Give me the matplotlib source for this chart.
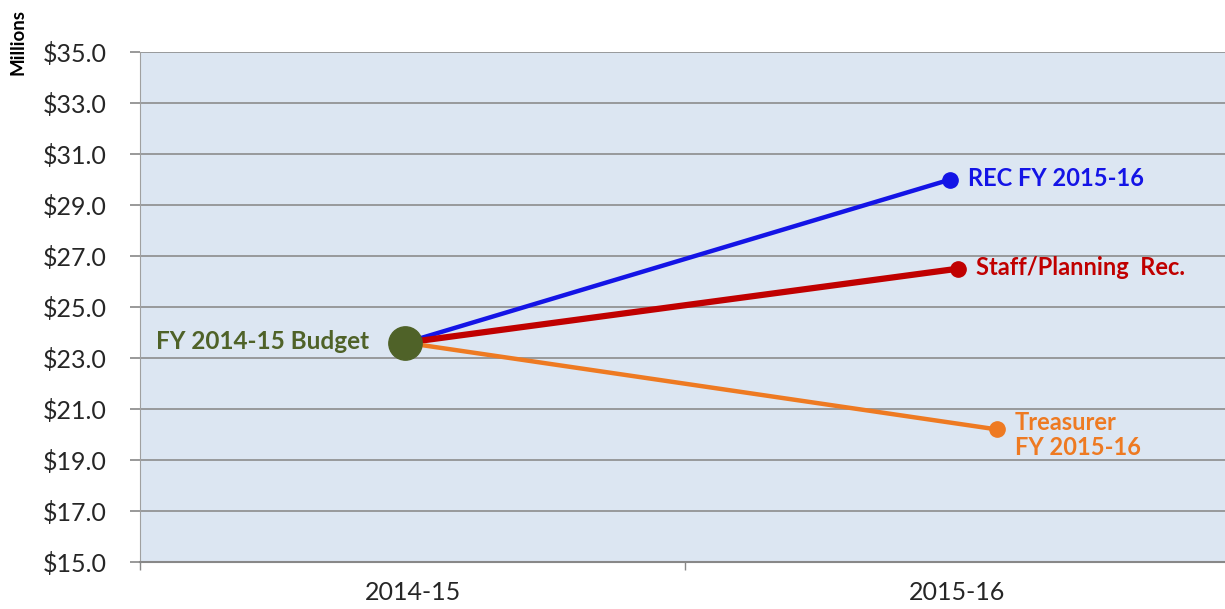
import matplotlib.pyplot as plt
import numpy as np

plt.rcParams['font.family'] = ['Lato', 'DejaVu Sans']

categories = ['2014-15', '2015-16']

# start point and the three scenario end points (x in category units)
start_x = -0.013
start_val = 23.6
scenario_names = ['REC FY 2015-16', 'Staff/Planning  Rec.', 'Treasurer\nFY 2015-16']
scenario_x = [0.987, 1.0, 1.072]
scenario_vals = [30.0, 26.5, 20.2]
scenario_colors = ['#1414E6', '#C00000', '#EE7A22']
line_widths = [3.2, 4.5, 3.2]
label_dy = [1, 1, -4]

fig = plt.figure(figsize=(12.25, 6.09), dpi=100)
ax = fig.add_axes([140 / 1225, 1 - 562 / 609, 1090 / 1225, 510 / 609])
ax.set_facecolor('#DCE6F2')

for name, x, v, c, lw, dy in zip(scenario_names, scenario_x, scenario_vals, scenario_colors, line_widths, label_dy):
    ax.plot([start_x, x], [start_val, v], color=c, lw=lw, solid_capstyle='round', zorder=3)
    ax.plot(x, v, 'o', color=c, markersize=11, zorder=4)
    ax.annotate(name, (x, v), xytext=(13, dy), textcoords='offset points',
                color=c, fontsize=17, fontweight='bold', va='center', ha='left',
                linespacing=1.1, annotation_clip=False)

ax.plot(start_x, start_val, 'o', color='#4F6228', markersize=24, zorder=5)
ax.annotate('FY 2014-15 Budget', (start_x, start_val), xytext=(-26, 1), textcoords='offset points',
            color='#4F6228', fontsize=17.5, fontweight='bold', va='center', ha='right')

ax.set_xlim(-0.5, 1.5)
ax.set_ylim(15, 35)
yt = np.arange(15, 35.1, 2)
ax.set_yticks(yt)
ax.set_yticklabels(['${:.1f}'.format(v) for v in yt], fontsize=18, color='#262626')
ax.set_xticks([0, 1])
ax.set_xticklabels(categories, fontsize=18, color='#262626')
ax.set_xticks([-0.5, 0.5, 1.5], minor=True)
ax.tick_params(axis='x', which='major', length=0, pad=14)
ax.tick_params(axis='x', which='minor', length=6, color='#888888', width=1)
ax.tick_params(axis='y', length=7, color='#888888', width=1.2, pad=17)
ax.grid(axis='y', color='#8C8C8C', lw=1.2, zorder=1)
for s in ['top', 'right']:
    ax.spines[s].set_visible(False)
ax.spines['left'].set_color('#A0A0A0')
ax.spines['bottom'].set_color('#888888')
ax.spines['bottom'].set_linewidth(1.5)

fig.text(18 / 1225, 1 - 42 / 609, 'Millions', rotation=90, ha='center', va='center',
         fontsize=13.5, fontweight='bold', color='black')

fig.savefig('out.png', dpi=100)
